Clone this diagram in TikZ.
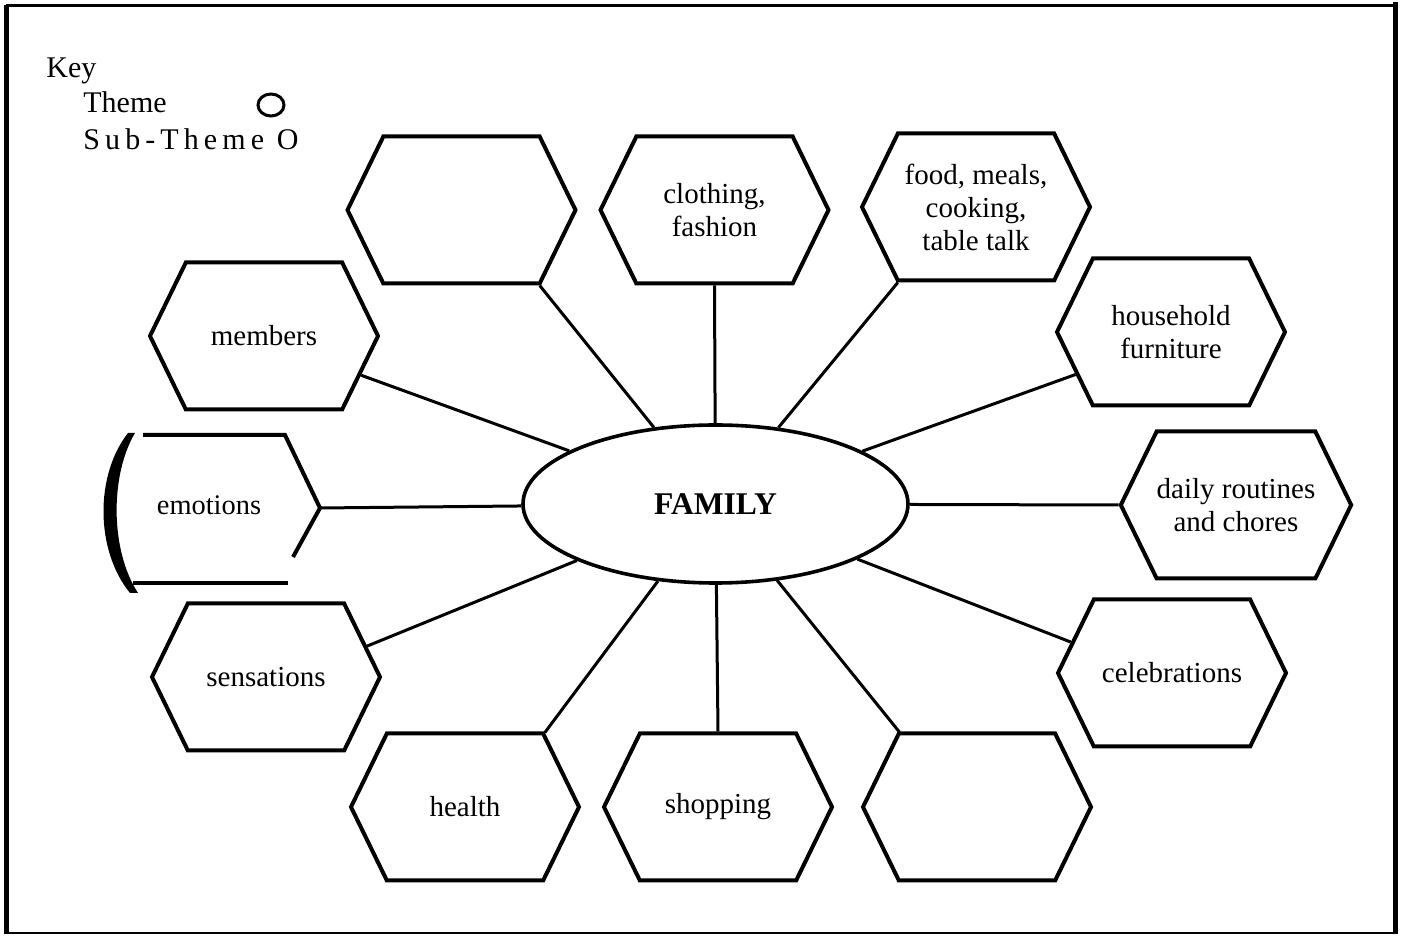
\documentclass[tikz,border=0pt]{standalone}
\usepackage{fontspec}
\setmainfont{Liberation Serif}
\newfontfamily\spacedfont[LetterSpace=17]{Liberation Serif}
\usetikzlibrary{shapes.geometric,shapes.symbols}

\begin{document}
\begin{tikzpicture}[x=0.5pt,y=-0.5pt,
    theme/.style={ellipse,draw,line width=1.8pt,minimum width=192.5pt,minimum height=79pt,
      inner sep=0pt,font=\fontsize{15.8}{18}\selectfont\bfseries},
    sub/.style={signal,signal to=west and east,signal pointer angle=128,draw,line width=2pt,
      minimum width=114pt,minimum height=73.5pt,inner sep=0pt,align=center,
      font=\fontsize{14.5}{16.5}\selectfont},
    spoke/.style={line width=1.5pt},
    keytext/.style={anchor=base west,inner sep=0pt,font=\fontsize{15}{18}\selectfont}]
    \useasboundingbox (0,0) rectangle (1404,940);
    % frame
    \draw[line width=1.5pt] (6,6) -- (1395,6);
    \draw[line width=1.2pt] (6,933) -- (1395,933);
    \draw[line width=2.5pt] (6,5) -- (6,934);
    \draw[line width=2.5pt] (1395,2) -- (1395,934);

    % key
    \node[keytext] (key)   at (46,78)  {Key};
    \node[keytext] (thm)   at (83,113) {Theme};
    \node[keytext] (sthm)  at (83,150) {\spacedfont Sub-Theme O};
    \node[ellipse,draw,line width=1.5pt,minimum width=13pt,minimum height=11pt,inner sep=0pt]
      (keyc) at (271,105) {};

    % theme and sub-themes
    \node[theme] (fam)    at (715.5,504) {FAMILY};
    \node[sub]   (blank1) at (461.5,210) {};
    \node[sub]   (cloth)  at (714.5,210) {clothing,\\fashion};
    \node[sub]   (food)   at (976,207)   {food, meals,\\cooking,\\table talk};
    \node[sub]   (house)  at (1171,332)  {household\\furniture};
    \node[sub]   (daily)  at (1236,505)  {daily routines\\and chores};
    \node[sub]   (celeb)  at (1172,673)  {celebrations};
    \node[sub]   (blank2) at (977,807)   {};
    \node[sub]   (shop)   at (718,807)   {shopping};
    \node[sub]   (health) at (465,807)   {health};
    \node[sub]   (sens)   at (266,677)   {sensations};
    \node[sub]   (memb)   at (264,336)   {members};

    % emotions, drawn open
    \node[font=\fontsize{14.2}{16}\selectfont] (emo) at (209,505) {emotions};
    \coordinate (emotip) at (320,508);
    \draw[line width=2pt] (143,435) -- (285,435) -- (emotip) -- (293,557);
    \draw[line width=2pt] (133,583) -- (288,583);
    \fill (128,433) .. controls (95,475) and (95,550) .. (130,593)
      -- (138,593) .. controls (110,550) and (110,475) .. (135,433) -- cycle;

    % spokes
    \draw[spoke] (blank1.-44) -- (fam);
    \draw[spoke] (cloth.south) -- (fam);
    \draw[spoke] (food.-136) -- (fam);
    \draw[spoke] (house.-156) -- (fam);
    \draw[spoke] (daily.west) -- (fam);
    \draw[spoke] (celeb.163) -- (fam);
    \draw[spoke] (blank2.136) -- (fam);
    \draw[spoke] (shop.north) -- (fam);
    \draw[spoke] (health.43) -- (fam);
    \draw[spoke] (sens.17) -- (fam);
    \draw[spoke] (emotip) -- (fam);
    \draw[spoke] (memb.-22) -- (fam);
\end{tikzpicture}
\end{document}
